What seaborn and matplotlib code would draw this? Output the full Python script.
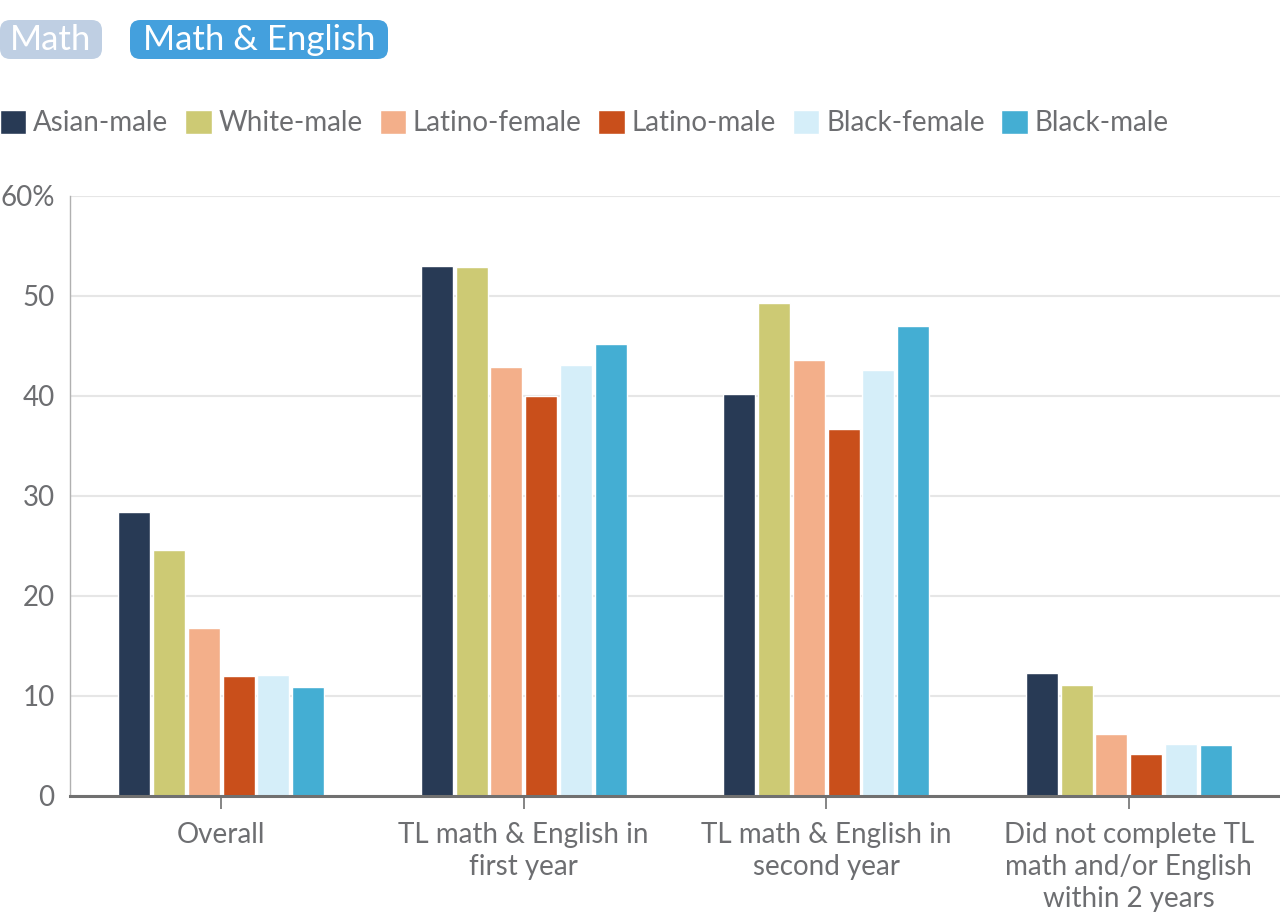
import pandas as pd
import matplotlib
matplotlib.use('Agg')
import matplotlib.pyplot as plt
from matplotlib.patches import FancyBboxPatch
import seaborn as sns

categories = ["Overall", "TL math & English in\nfirst year", "TL math & English in\nsecond year",
              "Did not complete TL\nmath and/or English\nwithin 2 years"]
groups = ["Asian-male", "White-male", "Latino-female", "Latino-male", "Black-female", "Black-male"]
asian_male = [28.4, 53.0, 40.2, 12.3]
white_male = [24.6, 52.9, 49.3, 11.1]
latino_female = [16.8, 42.9, 43.6, 6.2]
latino_male = [12.0, 40.0, 36.7, 4.2]
black_female = [12.1, 43.1, 42.6, 5.2]
black_male = [10.9, 45.2, 47.0, 5.1]
colors = ["#283a55", "#cdca74", "#f3af8a", "#c94f1b", "#d5eef9", "#44aed3"]
buttons = ["Math", "Math & English"]

series = [asian_male, white_male, latino_female, latino_male, black_female, black_male]
rows = []
for g, vals in zip(groups, series):
	for c, v in zip(categories, vals):
		rows.append({"category": c, "group": g, "value": v})
df = pd.DataFrame(rows)

sns.set_style("white")
plt.rcParams['font.family'] = ['Lato', 'DejaVu Sans']
text_col = "#6d6e71"

W, H = 1280, 918
fig = plt.figure(figsize=(12.8, 9.18), dpi=100)
ax = fig.add_axes([70/W, 122/H, 1 - 70/W, 600/H])
sns.barplot(data=df, x="category", y="value", hue="group", hue_order=groups,
            palette=colors, width=0.69, gap=0.08, saturation=1, ax=ax, legend=True)

ax.set_ylim(0, 60)
ax.set_xlim(-0.5, 3.5)
ax.set_yticks([0, 10, 20, 30, 40, 50, 60])
ax.set_yticklabels(["0", "10", "20", "30", "40", "50", "60%"])
ax.yaxis.grid(True, color="#e6e6e6", linewidth=1.5)
ax.set_axisbelow(True)
ax.set(xlabel="", ylabel="")
ax.tick_params(axis="y", length=0, labelsize=20, labelcolor=text_col, pad=11)
ax.tick_params(axis="x", length=9, width=1.2, color="#707070", labelsize=20,
               labelcolor=text_col, pad=10, direction="out", bottom=True)
for lab in ax.get_xticklabels():
	lab.set_linespacing(1.28)
for s in ["top", "right"]:
	ax.spines[s].set_visible(False)
ax.spines["bottom"].set_color("#707070")
ax.spines["bottom"].set_linewidth(2.2)
ax.spines["left"].set_color("#b0b0b0")
ax.spines["left"].set_linewidth(1)

handles, labels = ax.get_legend_handles_labels()
ax.get_legend().remove()
fig.legend(handles, labels, loc="center left", bbox_to_anchor=(0, 1 - 123/H), ncol=6,
           frameon=False, fontsize=20, handlelength=0.95, handleheight=0.95,
           handletextpad=0.25, columnspacing=0.6, labelcolor=text_col,
           borderpad=0, borderaxespad=0)

# toggle buttons at the top (pixel boxes)
btn_boxes = [(0, 102), (130, 388)]
btn_colors = ["#bfcfe3", "#44a0dd"]
for label, (x0, x1), fc in zip(buttons, btn_boxes, btn_colors):
	box = FancyBboxPatch((x0/W, 1 - 59/H), (x1 - x0)/W, 39/H,
	                     boxstyle="round,pad=0,rounding_size=0.008",
	                     transform=fig.transFigure, fc=fc, ec="none",
	                     mutation_aspect=W/H)
	fig.patches.append(box)
	fig.text((x0 + x1)/2/W, 1 - 40/H, label, fontsize=25, color="white", va="center", ha="center")

fig.savefig("out.png", dpi=100)
